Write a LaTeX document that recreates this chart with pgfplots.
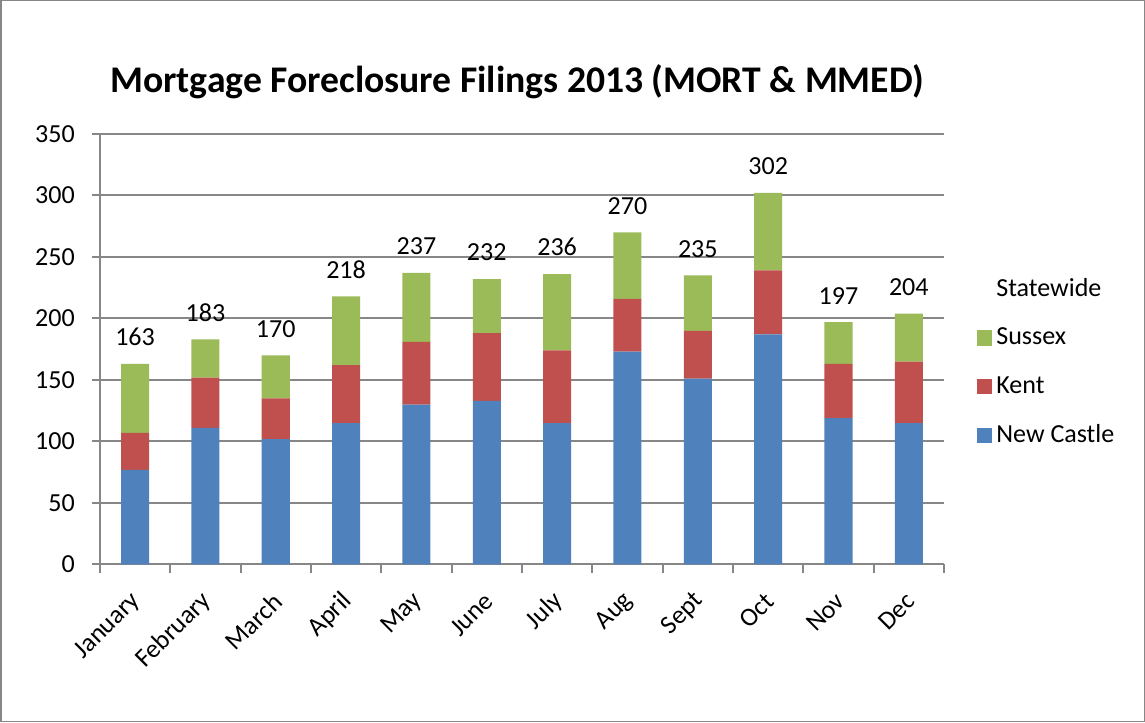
\documentclass[border=0pt]{standalone}
\usepackage{pgfplots}
\pgfplotsset{compat=1.18}
\usepackage{pgfplotstable}
\usepackage{fontspec}
\setmainfont{Carlito}
\definecolor{ncblue}{HTML}{4F81BD}
\definecolor{kred}{HTML}{C0504D}
\definecolor{sgreen}{HTML}{9BBB59}
\definecolor{gridgray}{HTML}{878787}
\pgfplotstableread{
x nc kent sus total
0 77 30 56 163
1 111 41 31 183
2 102 33 35 170
3 115 47 56 218
4 130 51 56 237
5 133 55 44 232
6 115 59 62 236
7 173 43 54 270
8 151 39 45 235
9 187 52 63 302
10 119 44 34 197
11 115 50 39 204
}\datatable
\begin{document}
\begin{tikzpicture}[x=1pt,y=1pt]
\begin{axis}[
  at={(0,0)}, anchor=south west,
  scale only axis, width=421.5pt, height=215pt,
  ybar stacked, bar width=14pt,
  xmin=-0.5, xmax=11.5, ymin=0, ymax=350,
  ytick={0,50,...,350},
  xtick={0,...,11},
  xticklabels={January,February,March,April,May,June,July,Aug,Sept,Oct,Nov,Dec},
  minor xtick={-0.5,0.5,...,11.5},
  major x tick style={draw=none},
  tick align=outside,
  major tick length=4pt, minor tick length=4pt,
  tick style={gridgray, line width=1pt},
  axis lines*=left,
  axis line style={gridgray, line width=1pt, -},
  ymajorgrids, grid style={gridgray, line width=1pt},
  tick label style={font=\fontsize{13}{15}\selectfont},
  /pgf/number format/assume math mode=true,
  xticklabel style={rotate=45, anchor=east, inner sep=1pt, xshift=-6.9pt, yshift=-9.4pt},
  yticklabel style={xshift=-5pt},
  legend style={at={(1.039,0.47)}, anchor=west, draw=none, fill=none,
    font=\fontsize{13}{15}\selectfont, row sep=10.25pt, inner sep=0pt},
  legend cell align=left,
  reverse legend,
  legend image code/.code={\draw[#1, draw=none] (0pt,-3.75pt) rectangle (7.5pt,3.75pt);},
]
\addplot[fill=ncblue, draw=none] table[x=x, y=nc] {\datatable};
\addlegendentry{New Castle}
\addplot[fill=kred, draw=none] table[x=x, y=kent] {\datatable};
\addlegendentry{Kent}
\addplot[fill=sgreen, draw=none, nodes near coords, point meta=explicit,
  visualization depends on={rawy \as \segh},
  nodes near coords align=above,
  every node near coord/.append style={font=\fontsize{13}{15}\selectfont, anchor=south, yshift={\segh*0.30714pt+5.5pt}, text=black}]
  table[x=x, y=sus, meta=total] {\datatable};
\addlegendentry{Sussex}
\addlegendimage{empty legend}
\addlegendentry{Statewide}
\end{axis}
\node[anchor=base, font=\bfseries\fontsize{18.8}{22}\selectfont] at (208.5,235.5) {Mortgage Foreclosure Filings 2013 (MORT \& MMED)};
\draw[gridgray, line width=0.75pt] (-49.5,-78.5) rectangle (521.5,281.5);
\end{tikzpicture}
\end{document}
